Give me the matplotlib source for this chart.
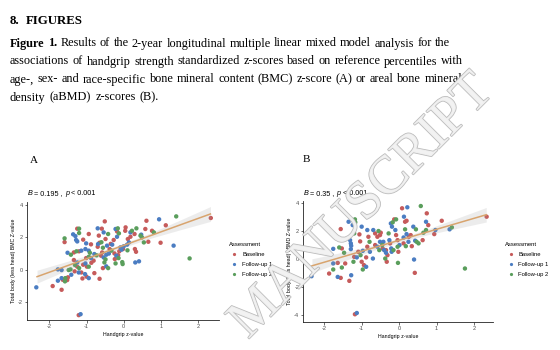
import matplotlib
matplotlib.use("Agg")
import matplotlib.pyplot as plt
import matplotlib.patheffects as pe
from matplotlib.lines import Line2D
import numpy as np

plt.rcParams['axes.unicode_minus'] = False

# ---------------- data ----------------
groups = ["Baseline", "Follow-up 1", "Follow-up 2"]
colors = ["#C65B5B", "#4B7DC2", "#5A9E5C"]

# Panel A: handgrip z vs BMC z
a_base_x = [-1.91, -1.67, -1.64, -1.52, -1.50, -1.59, -1.25, -1.34, -1.20, -1.34, -1.25, -1.32, -1.21, -1.09, -0.94,
            -0.88, -1.01, -0.87, -0.99, -1.09, -1.00, -1.14, -1.11, -0.81, -0.70, -0.65, -0.65, -0.67, -0.51, -0.59,
            -0.49, -0.58, -0.61, -0.56, -0.38, -0.27, -0.18, -0.25, -0.24, -0.12, -0.02, 0.05, 0.04, 0.29, 0.11,
            0.18, 0.30, 0.33, 0.58, 0.61, 0.66, 0.76, 0.99, 1.13, 2.34, -0.79, -0.35, -0.15]
a_base_y = [-1.01, -1.24, -0.62, -0.64, -0.47, 1.71, 2.54, 1.07, 1.14, 0.60, 0.19, -0.10, -2.81, 1.86, 2.21,
            1.57, 0.72, 0.43, 0.19, 0.31, -0.43, -0.17, -0.54, 0.56, 1.42, 1.67, -0.56, 2.11, 2.99, 2.54,
            1.90, 1.07, 0.87, 0.10, 1.28, 1.84, 2.37, 1.01, 0.66, 1.14, 1.28, 2.62, 2.41, 2.21, 1.90,
            2.04, 1.28, 1.11, 2.52, 3.03, 1.73, 2.41, 1.67, 2.75, 3.20, -0.21, 1.60, 0.90]
a_fu1_x = [-2.35, -1.77, -1.67, -1.67, -1.77, -1.41, -1.51, -1.36, -1.30, -1.28, -1.25, -1.14, -1.25, -1.21, -1.16,
           -1.01, -1.03, -0.94, -0.88, -1.03, -0.94, -1.04, -0.79, -0.69, -0.70, -0.54, -0.45, -0.54, -0.47, -0.47,
           -0.31, -0.22, -0.18, -0.20, -0.06, -0.09, 0.18, 0.14, 0.09, 0.31, 0.41, 0.47, 0.95, 1.34, -0.40, 0.00]
a_fu1_y = [-1.09, -0.68, -0.52, -0.02, 0.02, -0.31, 1.05, 2.19, 2.08, 1.84, 1.75, 1.18, 0.45, -0.17, -2.75,
           1.63, 1.28, 1.18, 0.72, 0.39, -0.52, -0.27, 0.97, 1.59, 2.56, 2.31, 1.49, 0.76, 0.93, 0.21,
           1.55, 2.52, 2.04, 0.87, 1.24, 1.38, 2.31, 1.69, 1.55, 0.45, 0.52, 2.17, 3.12, 1.49, 1.00, 1.45]
a_fu2_x = [-1.58, -1.57, -1.48, -1.43, -1.59, -1.42, -1.20, -1.20, -1.27, -1.31, -1.20, -0.91, -0.94, -0.94, -0.73,
           -0.42, -0.56, -0.49, -0.52, -0.42, -0.33, -0.16, -0.13, -0.14, -0.22, -0.04, -0.03, 0.22, 0.34, 0.45,
           0.49, 0.54, 0.81, 1.41, 1.77, -0.60, 0.10]
a_fu2_y = [-0.72, -0.52, -0.02, 0.02, 1.94, 0.93, 2.54, 2.27, 1.14, 0.29, 0.10, 1.05, 0.80, 0.19, 0.89,
           2.21, 1.36, 0.64, 0.45, 0.10, 1.18, 2.56, 2.25, 0.72, 0.39, 0.47, 0.35, 2.41, 2.56, 2.11,
           2.00, 1.69, 2.31, 3.30, 0.70, 1.70, 1.20]

# Panel B: handgrip z vs aBMD z
b_base_x = [-1.87, -1.64, -1.56, -1.53, -1.44, -1.56, -1.33, -1.20, -1.18, -1.06, -1.04, -1.09, -1.00, -0.94, -0.82,
            -0.85, -0.88, -0.64, -0.58, -0.64, -0.51, -0.49, -0.44, -0.35, -0.31, -0.33, -0.24, -0.13, -0.08, -0.04,
            -0.02, 0.08, 0.16, 0.20, 0.26, 0.12, 0.31, 0.34, 0.42, 0.74, 0.63, 0.78, 0.94, 1.14, 2.34]
b_base_y = [-1.05, -0.29, -1.36, 0.74, -0.33, 2.12, -1.57, 0.14, -3.95, 1.74, 1.24, 0.50, -0.21, -0.45, 1.57,
            0.86, 0.10, 1.81, 1.57, 0.98, 1.69, 1.86, 0.74, 0.62, 0.26, -0.21, 1.10, 2.81, 1.69, 1.33,
            0.50, 3.60, 2.64, 2.71, 1.57, 1.10, 1.69, 0.90, -1.00, 3.24, 1.33, 2.40, 1.76, 2.71, 3.00]
b_fu1_x = [-2.34, -1.76, -1.76, -1.64, -1.35, -1.28, -1.31, -1.29, -1.28, -1.29, -1.24, -1.13, -1.13, -1.00, -0.97,
           -0.88, -0.85, -0.78, -0.70, -0.69, -0.58, -0.51, -0.42, -0.40, -0.35, -0.26, -0.21, -0.20, -0.22, -0.19,
           -0.10, 0.01, 0.13, 0.22, 0.20, 0.12, 0.25, 0.38, 0.43, 0.40, 0.72, 0.97, 1.35]
b_fu1_y = [-1.24, 0.71, -0.33, -1.29, 2.64, -1.17, 1.33, 1.10, 0.93, 0.69, 2.40, 0.10, -3.86, 2.29, 0.57,
           -0.57, 2.05, 0.50, 0.02, 2.05, 0.86, 1.21, 1.21, 0.62, 0.43, 1.33, 0.74, 0.50, 2.52, 2.29,
           2.05, 0.98, 3.00, 3.67, 1.76, 1.52, 1.21, 2.29, 1.29, -0.05, 2.64, 2.05, 2.10]
b_fu2_x = [-1.76, -1.60, -1.47, -1.53, -1.20, -1.18, -1.17, -1.22, -1.03, -0.97, -0.79, -0.55, -0.53, -0.45, -0.37,
           -0.28, -0.15, -0.17, -0.08, -0.04, -0.03, 0.16, 0.18, 0.45, 0.47, 0.52, 0.58, 0.72, 0.65, 1.41, 1.76]
b_fu2_y = [-0.76, 0.81, 0.43, -0.62, 1.81, 2.81, 2.60, -0.21, 0.26, -0.76, 1.21, 1.98, 0.62, 0.98, 0.02,
           1.81, 0.62, 2.60, 2.81, 0.86, -0.29, 2.10, 0.90, 2.10, 1.21, 1.10, 3.76, 2.05, 1.86, 2.24, -0.69]

# fitted lines and confidence bands
fit_x = [-2.33, 2.33]
fitA_y = [-0.43, 3.45]
fitB_y = [-0.50, 3.14]
band_x = [-2.33, -1.5, -0.75, 0.0, 0.75, 1.5, 2.33]
bandA_half = [0.40, 0.27, 0.16, 0.12, 0.17, 0.30, 0.46]
bandB_half = [0.50, 0.33, 0.19, 0.14, 0.20, 0.35, 0.52]

titleA = "B = 0.195 , p < 0.001"
titleB = "B = 0.35 , p < 0.001"
ylabA = "Total body (less head) BMC Z-value"
ylabB = "Total body (less head) aBMD Z-value"
xlab = "Handgrip z-value"
xticks = [-2, -1, 0, 1, 2]
yticksA = [-2, 0, 2, 4]
yticksB = [-4, -2, 0, 2, 4]

caption = [
    "Figure 1. Results of the 2-year longitudinal multiple linear mixed model analysis for the",
    "associations of handgrip strength standardized z-scores based on reference percentiles with",
    "age-, sex- and race-specific bone mineral content (BMC) z-score (A) or areal bone mineral",
    "density (aBMD) z-scores (B).",
]

# ---------------- figure ----------------
W, H = 560, 350
fig = plt.figure(figsize=(W / 100, H / 100), dpi=100)
fig.patch.set_facecolor("white")
renderer = fig.canvas.get_renderer()


def fx(px):
    return px / W


def fy(py):
    return 1 - py / H


serif = "Liberation Serif"
sans = "Liberation Sans"


def twidth(s, **kw):
    t = fig.text(0, 0, s, **kw)
    w = t.get_window_extent(renderer).width
    t.remove()
    return w


# header
ref = twidth("FIGURES", fontsize=10, family=serif, weight="bold")
hsize = 10 * 57 / ref
fig.text(fx(10), fy(23.5), "8.", fontsize=hsize, family=serif, weight="bold", va="baseline")
fig.text(fx(26), fy(23.5), "FIGURES", fontsize=hsize, family=serif, weight="bold", va="baseline")

# caption with justification
ref2 = twidth(caption[1], fontsize=10, family=serif)
csize = 10 * 445 / ref2
ends = [450, 463, 462, None]
bases = [46.5, 64.5, 82.5, 100.5]
space_w = twidth("a a", fontsize=csize, family=serif) - twidth("aa", fontsize=csize, family=serif)
for li, line in enumerate(caption):
    words = line.split(" ")
    weights = ["bold" if (li == 0 and k < 2) else "normal" for k in range(len(words))]
    widths = [twidth(w, fontsize=csize, family=serif, weight=wt) for w, wt in zip(words, weights)]
    if ends[li] is None:
        gap = space_w * 1.3
    else:
        gap = (ends[li] - 10 - sum(widths)) / (len(words) - 1)
    x = 10
    for w, wt, wd in zip(words, weights, widths):
        fig.text(fx(x), fy(bases[li]), w, fontsize=csize, family=serif, weight=wt, va="baseline")
        x += wd + gap

# panel letters
fig.text(fx(30), fy(163), "A", fontsize=8, family=serif, va="baseline")
fig.text(fx(303), fy(162), "B", fontsize=8, family=serif, va="baseline")


def panel(ax, data, fit_y, band_half, xlim, ylim, yticks, title, ylab):
    for (xs, ys), c in zip(data, colors):
        ax.scatter(xs, ys, s=10, color=c, edgecolors="none", zorder=2)
    bx = np.array(band_x)
    line_at = np.interp(bx, fit_x, fit_y)
    ax.fill_between(bx, line_at - np.array(band_half), line_at + np.array(band_half),
                    color="#999999", alpha=0.18, linewidth=0, zorder=3)
    ax.plot(fit_x, fit_y, color="#D8A46E", lw=1.1, zorder=4)
    ax.set_xlim(*xlim)
    ax.set_ylim(*ylim)
    ax.set_xticks(xticks)
    ax.set_yticks(yticks)
    ax.set_xticklabels([str(v) for v in xticks])
    ax.set_yticklabels([str(v) for v in yticks])
    for s in ["top", "right"]:
        ax.spines[s].set_visible(False)
    for s in ["left", "bottom"]:
        ax.spines[s].set_linewidth(0.6)
        ax.spines[s].set_color("#222222")
    ax.tick_params(length=1.8, width=0.5, colors="#333333", labelsize=4.0, pad=1.2,
                   labelcolor="#4D4D4D")
    ax.set_xlabel(xlab, fontsize=3.8, family=sans, labelpad=2)
    ax.set_ylabel(ylab, fontsize=3.8, family=sans, labelpad=1.5)
    ax.set_facecolor("white")
    for lab in ax.get_xticklabels() + ax.get_yticklabels():
        lab.set_family(sans)


axA = fig.add_axes([fx(27), fy(320), (219 - 27) / W, (320 - 202) / H])
panel(axA, [(a_base_x, a_base_y), (a_fu1_x, a_fu1_y), (a_fu2_x, a_fu2_y)], fitA_y, bandA_half,
      (-2.60, 2.56), (-3.11, 4.19), yticksA, titleA, ylabA)
axB = fig.add_axes([fx(303.3), fy(321.7), (493 - 303.3) / W, (321.7 - 200.7) / H])
panel(axB, [(b_base_x, b_base_y), (b_fu1_x, b_fu1_y), (b_fu2_x, b_fu2_y)], fitB_y, bandB_half,
      (-2.56, 2.51), (-4.48, 4.14), yticksB, titleB, ylabB)


# titles with italic B and p
def title_text(x0, ybase, txt):
    parts = [("B", "italic"), (" = " + txt.split("=")[1].split(",")[0].strip() + " , ", "normal"),
             ("p", "italic"), (" < 0.001", "normal")]
    x = x0
    for s, st in parts:
        fig.text(fx(x), fy(ybase), s, fontsize=5.2, family=sans, style=st, va="baseline")
        x += twidth(s.replace(" ", "\u00a0"), fontsize=5.2, family=sans, style=st)


title_text(27.5, 195, titleA)
title_text(303.5, 195, titleB)


# legends
def legend(x_title, x_mark, x_text, y_title, ys):
    fig.text(fx(x_title), fy(y_title), "Assessment", fontsize=4.2, family=sans, va="baseline")
    for g, c, yy in zip(groups, colors, ys):
        fig.add_artist(Line2D([fx(x_mark)], [fy(yy)], marker="o", markersize=2.3, color=c,
                              markeredgewidth=0, linestyle="None", transform=fig.transFigure))
        fig.text(fx(x_text), fy(yy), g, fontsize=4.2, family=sans, va="center")


legend(229.3, 234.3, 242.3, 245.5, [254.3, 264.3, 274.3])
legend(505, 510.7, 518.3, 245.5, [254.3, 264.3, 274.3])

# watermark
fig.text(fx(362), fy(207), "MANUSCRIPT", rotation=45, ha="center", va="center",
         fontsize=39, family=serif, color="#f2f2f2", alpha=0.9, zorder=20,
         path_effects=[pe.Stroke(linewidth=1.1, foreground="#b3b3b3"), pe.Normal()])

fig.savefig("out.png", dpi=100, facecolor="white")
